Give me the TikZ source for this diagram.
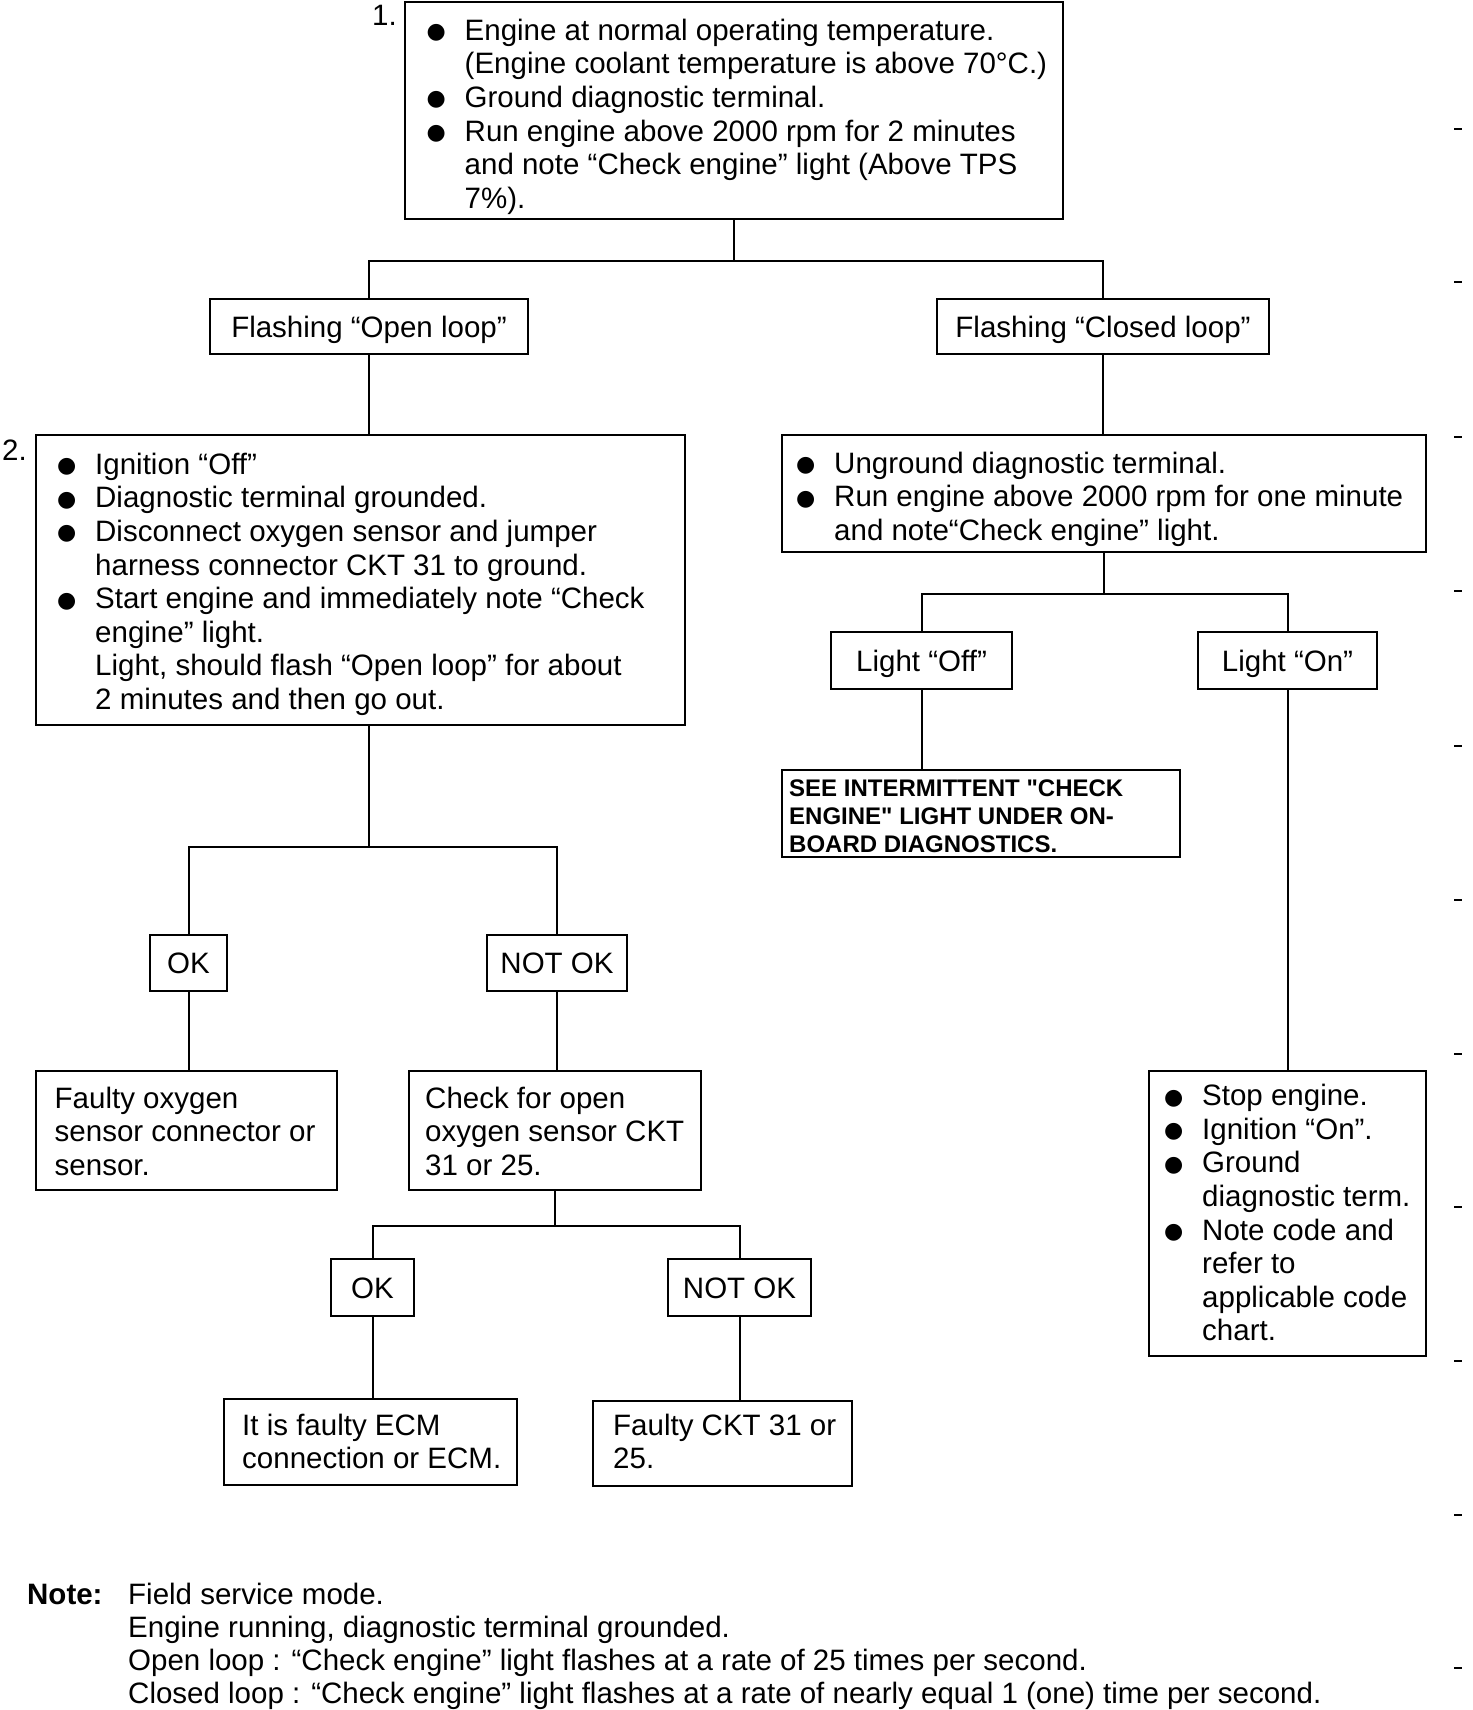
\documentclass[tikz,border=0pt]{standalone}
\usepackage{fontspec}
\setmainfont{Liberation Sans}
\newfontfamily\symfont{DejaVu Sans}
\newcommand\fs{\fontsize{29.5}{33.6}\selectfont}
\newcommand\fsnote{\fontsize{29.5}{33}\selectfont}
\newcommand\bul{\makebox[38pt][l]{\raisebox{1.5pt}{\symfont\fontsize{22}{22}\selectfont ●}}}
\newcommand\ind{\hspace*{38pt}}
\tikzset{
  box/.style={draw, line width=2.6pt, inner sep=0pt},
  lbl/.style={box, font=\fs, text height=21pt, text depth=0pt},
  txt/.style={anchor=north west, inner sep=0pt, align=left, font=\fs},
  conn/.style={line width=2pt},
  tick/.style={line width=1.2pt},
}
\begin{document}
\begin{tikzpicture}[x=1pt,y=-1pt]
\useasboundingbox[fill=white] (0,0) rectangle (1472,1710);

% boxes
\node[box, minimum width=658, minimum height=217] (b1) at (734,110.5) {};
\node[lbl, minimum width=318, minimum height=55] (open) at (369,326.5) {Flashing “Open loop”};
\node[lbl, minimum width=332, minimum height=55] (closed) at (1103,326.5) {Flashing “Closed loop”};
\node[box, minimum width=649, minimum height=290] (b2) at (360.5,580) {};
\node[box, minimum width=644, minimum height=117] (rb) at (1104,493.5) {};
\node[lbl, minimum width=181, minimum height=57] (off) at (921.5,660.5) {Light “Off”};
\node[lbl, minimum width=179, minimum height=57] (on) at (1287.5,660.5) {Light “On”};
\node[box, minimum width=398, minimum height=87] (see) at (981,813.5) {};
\node[box, minimum width=277, minimum height=285] (stop) at (1287.5,1213.5) {};
\node[lbl, minimum width=77, minimum height=56] (ok1) at (188.5,963) {OK};
\node[lbl, minimum width=140, minimum height=56] (nok1) at (557,963) {NOT OK};
\node[box, minimum width=301, minimum height=119] (faulty) at (186.5,1130.5) {};
\node[box, minimum width=292, minimum height=119] (check) at (555,1130.5) {};
\node[lbl, minimum width=83, minimum height=57] (ok2) at (372.5,1287.5) {OK};
\node[lbl, minimum width=143, minimum height=57] (nok2) at (739.5,1287.5) {NOT OK};
\node[box, minimum width=293, minimum height=86] (ecm) at (370.5,1442) {};
\node[box, minimum width=259, minimum height=85] (ckt) at (722.5,1443.5) {};

% texts
\node[anchor=base west, inner sep=0pt, font=\fs] (n1) at (372,26) {1.};
\node[anchor=base west, inner sep=0pt, font=\fs] (n2) at (2,460) {2.};
\node[txt] (t1) at (426.5,16.5) {\strut\bul Engine at normal operating temperature.\\
\ind (Engine coolant temperature is above 70°C.)\\
\bul Ground diagnostic terminal.\\
\bul Run engine above 2000 rpm for 2 minutes\\
\ind and note “Check engine” light (Above TPS\\
\ind 7\%).};
\node[txt] (t2) at (57,450.5) {\strut\bul Ignition “Off”\\
\bul Diagnostic terminal grounded.\\
\bul Disconnect oxygen sensor and jumper\\
\ind harness connector CKT 31 to ground.\\
\bul Start engine and immediately note “Check\\
\ind engine” light.\\
\ind Light, should flash “Open loop” for about\\
\ind 2 minutes and then go out.};
\node[txt] (trb) at (796,449.5) {\strut\bul Unground diagnostic terminal.\\
\bul Run engine above 2000 rpm for one minute\\
\ind and note“Check engine” light.};
\node[txt, font=\fontsize{24}{28}\selectfont\bfseries] (tsee) at (789,776.4) {\strut SEE INTERMITTENT \textquotedbl CHECK\\
ENGINE\textquotedbl{} LIGHT UNDER ON-\\
BOARD DIAGNOSTICS.};
\node[txt] (tstop) at (1164,1082) {\strut\bul Stop engine.\\
\bul Ignition “On”.\\
\bul Ground\\
\ind diagnostic term.\\
\bul Note code and\\
\ind refer to\\
\ind applicable code\\
\ind chart.};
\node[txt] (tfaulty) at (54.5,1084.5) {\strut Faulty oxygen\\ sensor connector or\\ sensor.};
\node[txt] (tcheck) at (425,1084.5) {\strut Check for open\\ oxygen sensor CKT\\ 31 or 25.};
\node[txt] (tecm) at (242,1411.5) {\strut It is faulty ECM\\ connection or ECM.};
\node[txt] (tckt) at (613,1411.5) {\strut Faulty CKT 31 or\\ 25.};

% note
\node[anchor=base west, inner sep=0pt, font=\fsnote\bfseries] (note) at (27,1604) {Note:};
\node[txt, font=\fsnote] (notetxt) at (128,1580.9) {\strut Field service mode.\\
Engine running, diagnostic terminal grounded.\\
Open loop : “Check engine” light flashes at a rate of 25 times per second.\\
Closed loop : “Check engine” light flashes at a rate of nearly equal 1 (one) time per second.};

% connectors
\coordinate (j1) at (b1.south |- 0,261);
\draw[conn] (b1.south) -- (j1);
\draw[conn] (open.north) |- (j1) -| (closed.north);
\draw[conn] (open.south) -- (open.south |- b2.north);
\draw[conn] (closed.south) -- (closed.south |- rb.north);
\coordinate (j2) at (rb.south |- 0,594);
\draw[conn] (rb.south) -- (j2);
\draw[conn] (off.north) |- (j2) -| (on.north);
\draw[conn] (off.south) -- (off.south |- see.north);
\draw[conn] (on.south) -- (on.south |- stop.north);
\coordinate (j3a) at (open.south |- b2.south);
\coordinate (j3) at (open.south |- 0,847);
\draw[conn] (j3a) -- (j3);
\draw[conn] (ok1.north) |- (j3) -| (nok1.north);
\draw[conn] (ok1.south) -- (ok1.south |- faulty.north);
\draw[conn] (nok1.south) -- (nok1.south |- check.north);
\coordinate (j4) at (check.south |- 0,1226);
\draw[conn] (check.south) -- (j4);
\draw[conn] (ok2.north) |- (j4) -| (nok2.north);
\draw[conn] (ok2.south) -- (ok2.south |- ecm.north);
\draw[conn] (nok2.south) -- (nok2.south |- ckt.north);

% margin ticks
\foreach \yy in {129,282,437,591,746,900,1054,1207,1361,1515,1668}
  \draw[tick] (1454,\yy) -- (1462,\yy);
\end{tikzpicture}
\end{document}
